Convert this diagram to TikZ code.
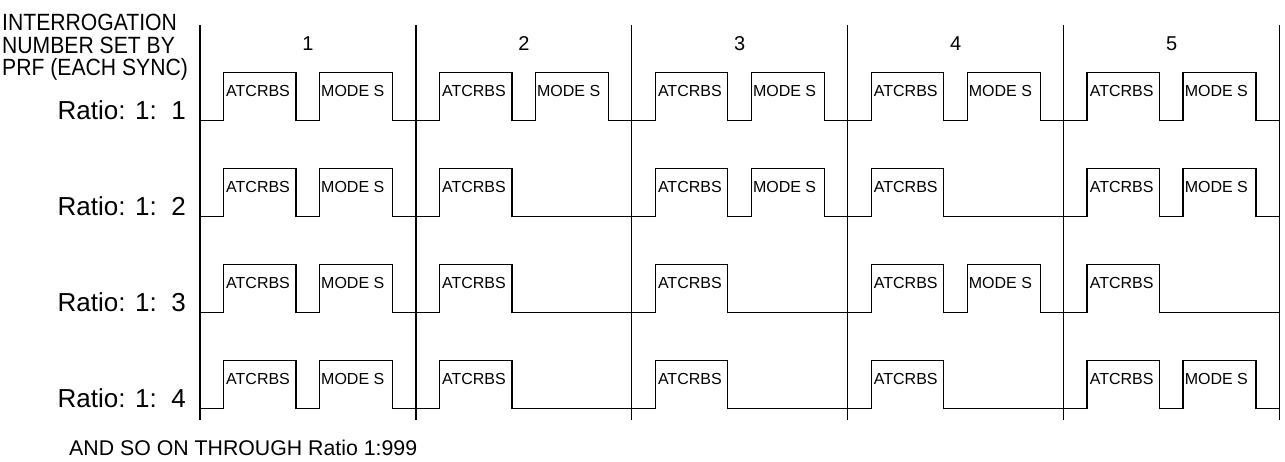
\documentclass[tikz,border=0pt]{standalone}
\usepackage{fontspec}
\setmainfont{Liberation Sans}
\newcommand\narrow[1]{\scalebox{0.9}[1]{#1}}
\newcommand\wave[2]{%
  \draw[sig] (200,#1)
    \foreach \m [count=\k from 0] in {#2} {
      -- ({200+215.9*\k+23.5},#1) -- ({200+215.9*\k+23.5},#1-48)
      -- ({200+215.9*\k+96},#1-48) -- ({200+215.9*\k+96},#1)
      -- ({200+215.9*\k+119.5},#1) -- ({200+215.9*\k+119.5},{#1-48*(\m-1)})
      -- ({200+215.9*\k+192.5},{#1-48*(\m-1)}) -- ({200+215.9*\k+192.5},#1)
    } -- (1279.5,#1);
  \foreach \m [count=\k from 0] in {#2} {
    \node[lab] (a\k) at ({200+215.9*\k+26},#1-24.3) {ATCRBS};
    \ifnum\m=2 \node[lab] (m\k) at ({200+215.9*\k+121},#1-24.3) {MODE S};\fi
  }%
}
\begin{document}
\begin{tikzpicture}[x=1pt,y=-1pt,
  sig/.style={line width=1.3pt,line join=miter},
  grid/.style={line width=1.3pt},
  lab/.style={anchor=base west,inner sep=0pt,font=\fontsize{16}{17}\selectfont},
  num/.style={anchor=base,inner sep=0pt,font=\fontsize{20}{22}\selectfont},
  ratio/.style={anchor=base east,inner sep=0pt,font=\fontsize{26}{28}\selectfont},
  head/.style={anchor=base west,inner sep=0pt,font=\fontsize{23.5}{25}\selectfont},
  foot/.style={anchor=base west,inner sep=0pt,font=\fontsize{21.3}{23}\selectfont}]
\useasboundingbox (0,0) rectangle (1285,461);
\fill[white] (0,0) rectangle (1285,461);
% frame separators
\foreach \i in {0,...,5}
  \draw[grid] ({200+215.9*\i},25) -- ({200+215.9*\i},420);
% frame numbers
\foreach \i in {1,...,5}
  \node[num] (n\i) at ({200+215.9*(\i-0.5)},50) {\i};
% heading
\node[head] (h1) at (2,30.5) {\narrow{INTERROGATION}};
\node[head] (h2) at (2,53) {\narrow{NUMBER SET BY}};
\node[head] (h3) at (2,75.5) {\narrow{PRF (EACH SYNC)}};
% waveforms
\wave{120.5}{2,2,2,2,2}
\wave{216.5}{2,1,2,1,2}
\wave{312.5}{2,1,1,2,1}
\wave{408.5}{2,1,1,1,2}
% ratio labels
\node[ratio] (r1) at (186,119.5) {Ratio: 1:\ \ 1};
\node[ratio] (r2) at (186,215.5) {Ratio: 1:\ \ 2};
\node[ratio] (r3) at (186,311.5) {Ratio: 1:\ \ 3};
\node[ratio] (r4) at (186,407.5) {Ratio: 1:\ \ 4};
\node[foot] (ft) at (69,455.5) {AND SO ON THROUGH Ratio 1:999};
\end{tikzpicture}
\end{document}
